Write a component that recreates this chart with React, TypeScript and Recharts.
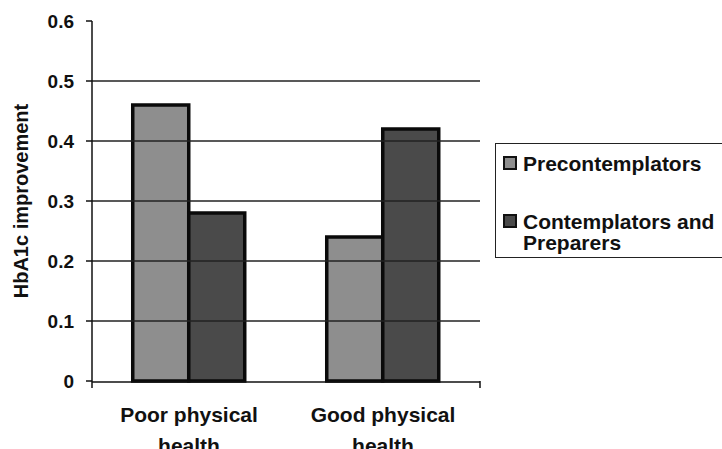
import React from 'react';
import { BarChart, Bar, XAxis, YAxis, ReferenceLine } from 'recharts';

const categories = ['Poor physical health', 'Good physical health'];
const precontemplators = [0.46, 0.24];
const contemplatorsPreparers = [0.28, 0.42];
const yTicks = [0, 0.1, 0.2, 0.3, 0.4, 0.5, 0.6];
const gridValues = [0.1, 0.2, 0.3, 0.4, 0.5];
const seriesNames = ['Precontemplators', 'Contemplators and Preparers'];
const seriesKeys = ['pre', 'con'];
const seriesColors = ['#8e8e8e', '#4a4a4a'];
const yLabel = 'HbA1c improvement';

const data = categories.map((c, i) => ({
  category: c,
  pre: precontemplators[i],
  con: contemplatorsPreparers[i],
}));
const boundaryTicks = categories.map((_, i) => i).concat(categories.length);

const FONT = '"Liberation Sans", Arial, Helvetica, sans-serif';
const INK = '#111';

const CategoryTick = (props: any) => {
  const { x, y, payload } = props;
  const words = String(payload.value).split(' ');
  const line1 = words.slice(0, -1).join(' ');
  const line2 = words[words.length - 1];
  return (
    <text x={x} y={y} textAnchor="middle" fontFamily={FONT} fontSize={21} fontWeight="bold" fill={INK}>
      <tspan x={x} dy={40}>{line1}</tspan>
      <tspan x={x} dy={31}>{line2}</tspan>
    </text>
  );
};

const YLabel = (props: any) => {
  const { viewBox } = props;
  const cx = viewBox.x + 28;
  const cy = viewBox.y + viewBox.height / 2;
  return (
    <text
      x={cx}
      y={cy}
      textAnchor="middle"
      fontFamily={FONT}
      fontSize={20}
      fontWeight="bold"
      fill={INK}
      transform={`rotate(-90, ${cx}, ${cy})`}
    >
      {yLabel}
    </text>
  );
};

const LegendBox = () => (
  <div
    style={{
      position: 'absolute',
      left: 495,
      top: 143,
      width: 240,
      height: 115,
      border: '1.5px solid #222',
      boxSizing: 'border-box',
      background: '#fff',
      fontFamily: FONT,
      fontWeight: 'bold',
      fontSize: 21,
      lineHeight: '21px',
      color: INK,
    }}
  >
    {seriesNames.map((n, i) => (
      <div key={n} style={{ position: 'absolute', left: 0, top: 9 + i * 58, width: 240 }}>
        <div
          style={{
            position: 'absolute',
            left: 7,
            top: 3,
            width: 14,
            height: 14,
            boxSizing: 'border-box',
            border: '2.5px solid #111',
            background: seriesColors[i],
          }}
        />
        <div style={{ position: 'absolute', left: 27, top: 0, width: 200 }}>{n}</div>
      </div>
    ))}
  </div>
);

export default function App() {
  return (
    <div style={{ position: 'fixed', left: 0, top: 0, width: 722, height: 449, overflow: 'hidden', background: '#fff' }}>
      <BarChart
        width={722}
        height={449}
        data={data}
        margin={{ top: 21, right: 242, bottom: 0, left: 0 }}
        barCategoryGap="21%"
        barGap={0}
      >
        <XAxis
          xAxisId="b"
          type="number"
          domain={[0, categories.length]}
          ticks={boundaryTicks}
          allowDataOverflow
          height={1}
          tickFormatter={() => ''}
          axisLine={false}
          tickSize={7}
          tickLine={{ stroke: INK, strokeWidth: 1.5 }}
        />
        <XAxis
          xAxisId="cat"
          dataKey="category"
          height={67}
          tickLine={false}
          tickSize={0}
          tickMargin={0}
          axisLine={{ stroke: INK, strokeWidth: 1.5 }}
          tick={<CategoryTick />}
          interval={0}
        />
        <YAxis
          width={92}
          domain={[0, 0.6]}
          ticks={yTicks}
          interval={0}
          tickSize={6}
          tickMargin={12}
          axisLine={{ stroke: INK, strokeWidth: 1.5 }}
          tickLine={{ stroke: INK, strokeWidth: 1.5 }}
          tick={{ fontSize: 19, fontWeight: 'bold', fill: INK, fontFamily: FONT }}
          label={<YLabel />}
        />
        {gridValues.map((v) => (
          <ReferenceLine key={v} y={v} xAxisId="cat" stroke="#222" strokeWidth={1.3} />
        ))}
        {seriesKeys.map((k, i) => (
          <Bar
            key={k}
            dataKey={k}
            xAxisId="cat"
            name={seriesNames[i]}
            fill={seriesColors[i]}
            stroke="#0a0a0a"
            strokeWidth={3.5}
            isAnimationActive={false}
          />
        ))}
      </BarChart>
      <LegendBox />
    </div>
  );
}
